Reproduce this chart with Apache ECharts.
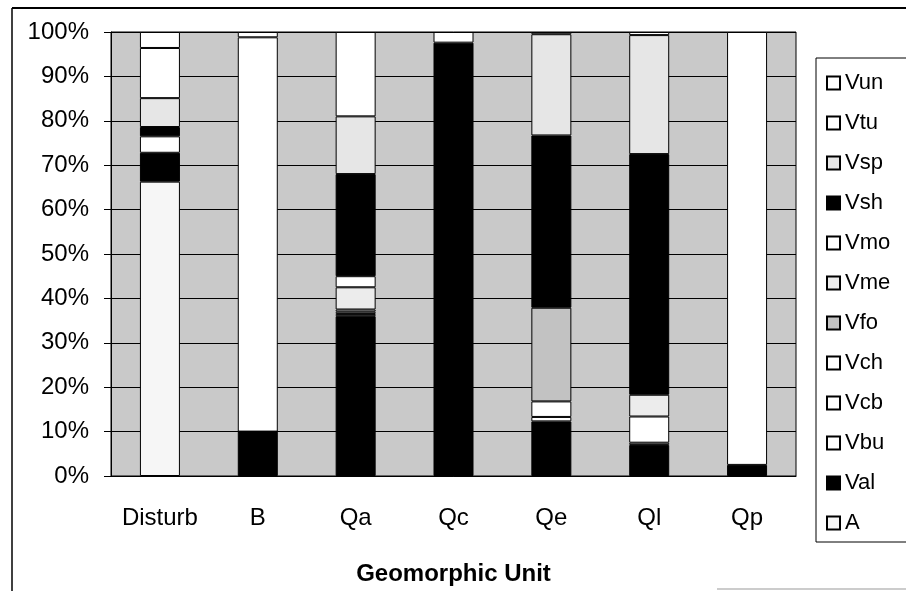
<!DOCTYPE html>
<html>
<head>
<meta charset="utf-8">
<script src="https://cdn.jsdelivr.net/npm/echarts@6/dist/echarts.min.js"></script>
<style>
  html, body { margin: 0; padding: 0; background: #fff; }
  #chart { width: 906px; height: 591px; }
</style>
</head>
<body>
<div id="chart"></div>
<script>
// data (percent of each unit)
var categories = ['Disturb', 'B', 'Qa', 'Qc', 'Qe', 'Ql', 'Qp'];
var A   = [66.3, 0, 0, 0, 0, 0, 0];
var Val = [6.5, 10, 36, 97.6, 12.3, 7.0, 2.5];
var Vbu = [0, 88.8, 0.5, 0, 1.0, 0.5, 97.5];
var Vcb = [0, 0, 0.5, 0, 0, 5.9, 0];
var Vch = [3.7, 0, 0.5, 0, 3.5, 0, 0];
var Vfo = [0, 0, 0, 0, 21.1, 0, 0];
var Vme = [0, 0, 5.0, 0, 0, 4.9, 0];
var Vmo = [0, 0, 2.5, 0, 0, 0, 0];
var Vsh = [2.1, 0, 23, 0, 38.8, 54.2, 0];
var Vsp = [6.5, 0, 13, 0, 22.8, 26.8, 0];
var Vtu = [11.3, 1.2, 0, 0, 0, 0, 0];
var Vun = [3.6, 0, 19, 2.4, 0.5, 0.7, 0];
var yTicks = [0, 10, 20, 30, 40, 50, 60, 70, 80, 90, 100];

(function () {
  var myChart = echarts.init(document.getElementById('chart'));
  var font = 'Liberation Sans, Arial, sans-serif';

  // bottom to top
  var stack = [
    ['A', A, '#f6f6f6'],
    ['Val', Val, '#000000'],
    ['Vbu', Vbu, '#ffffff'],
    ['Vcb', Vcb, '#ffffff'],
    ['Vch', Vch, '#ffffff'],
    ['Vfo', Vfo, '#c2c2c2'],
    ['Vme', Vme, '#ececec'],
    ['Vmo', Vmo, '#ffffff'],
    ['Vsh', Vsh, '#000000'],
    ['Vsp', Vsp, '#e6e6e6'],
    ['Vtu', Vtu, '#ffffff'],
    ['Vun', Vun, '#ffffff']
  ];

  var series = stack.map(function (s) {
    return {
      name: s[0],
      type: 'bar',
      stack: 'total',
      barWidth: 40,
      itemStyle: { color: s[2], borderColor: '#000', borderWidth: 1 },
      data: s[1].map(function (v) { return v === 0 ? '-' : v; })
    };
  });

  var option = {
    animation: false,
    textStyle: { fontFamily: font, color: '#000' },
    grid: {
      left: 111, right: 110, top: 32, bottom: 115,
      show: true,
      backgroundColor: '#c9c9c9',
      borderColor: '#000',
      borderWidth: 1
    },
    legend: {
      orient: 'vertical',
      left: 816,
      top: 58,
      data: stack.map(function (s) { return s[0]; }).reverse(),
      icon: 'rect',
      itemWidth: 13,
      itemHeight: 13,
      itemGap: 18,
      padding: [14, 30, 8, 10],
      borderColor: '#000',
      borderWidth: 1,
      backgroundColor: '#fff',
      textStyle: { fontFamily: font, fontSize: 22, lineHeight: 22, color: '#000' }
    },
    xAxis: {
      type: 'category',
      data: categories,
      name: 'Geomorphic Unit',
      nameLocation: 'middle',
      nameGap: 86,
      nameTextStyle: { fontFamily: font, fontSize: 24, fontWeight: 'bold', color: '#000' },
      axisLine: { lineStyle: { color: '#000', width: 1 } },
      axisTick: { length: 6, lineStyle: { color: '#000' } },
      axisLabel: { interval: 0, fontFamily: font, fontSize: 24, color: '#000', margin: 30 }
    },
    yAxis: {
      type: 'value',
      min: yTicks[0],
      max: yTicks[yTicks.length - 1],
      interval: 10,
      axisLine: { show: true, lineStyle: { color: '#000', width: 1 } },
      axisTick: { show: true, length: 7, lineStyle: { color: '#000' } },
      axisLabel: { fontFamily: font, fontSize: 24, color: '#000', margin: 22, formatter: '{value}%' },
      splitLine: { lineStyle: { color: '#000', width: 1 } }
    },
    graphic: [
      { type: 'line', shape: { x1: 12, y1: 8, x2: 906, y2: 8 }, style: { stroke: '#000', lineWidth: 2 } },
      { type: 'line', shape: { x1: 12, y1: 8, x2: 12, y2: 591 }, style: { stroke: '#000', lineWidth: 1.5 } },
      { type: 'line', shape: { x1: 717, y1: 589, x2: 906, y2: 589 }, style: { stroke: '#999', lineWidth: 1 } }
    ],
    series: series
  };

  myChart.setOption(option);
  window.addEventListener('resize', function () {
    myChart.resize();
  });
})();
</script>
</body>
</html>
